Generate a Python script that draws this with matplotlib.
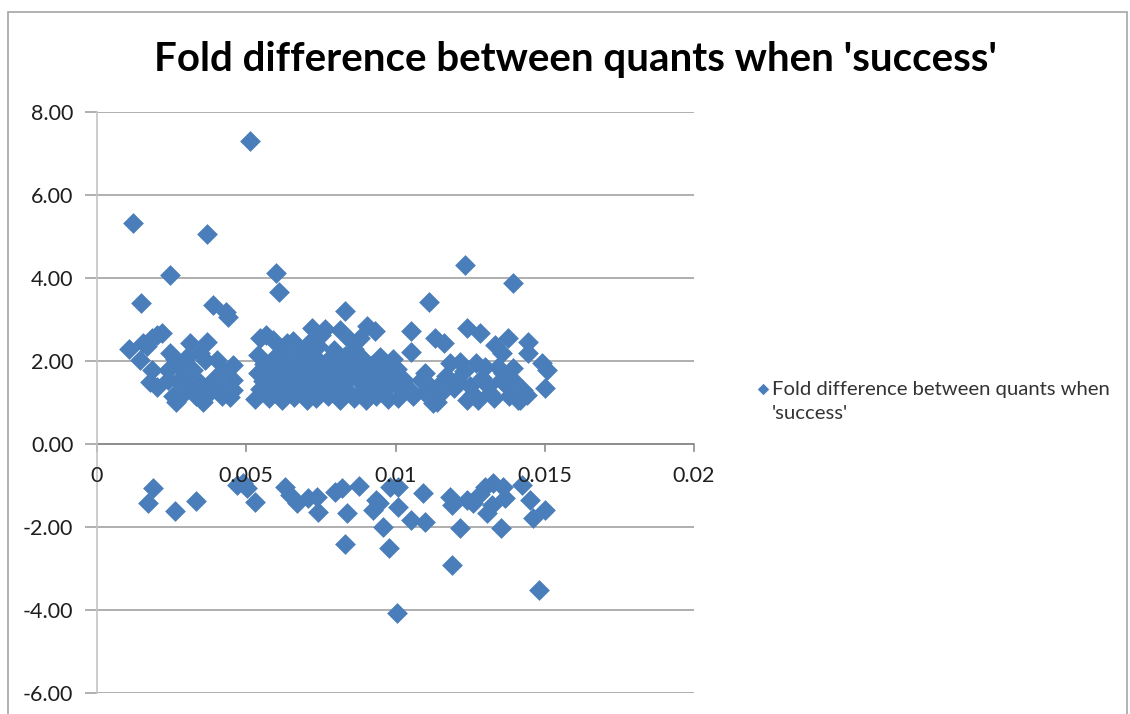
import matplotlib
matplotlib.use("Agg")
import matplotlib.pyplot as plt
from matplotlib.patches import Rectangle

# Fold difference vs. x position, points read per cluster
x_upper = [0.00512, 0.00120, 0.00368, 0.00245, 0.00599, 0.00609, 0.00147, 0.00389,
           0.00432, 0.00438, 0.00830, 0.01232, 0.01393, 0.01112]
y_upper = [7.30, 5.32, 5.07, 4.07, 4.13, 3.66, 3.40, 3.35,
           3.18, 3.05, 3.20, 4.31, 3.89, 3.42]

x_left = [0.00107, 0.00154, 0.00184, 0.00218, 0.00144, 0.00184, 0.00177, 0.00200,
          0.00245, 0.00238, 0.00271, 0.00278, 0.00265, 0.00255, 0.00311, 0.00368,
          0.00321, 0.00311, 0.00345, 0.00355, 0.00362, 0.00402, 0.00389, 0.00422,
          0.00455, 0.00455, 0.00455, 0.00445, 0.00295, 0.00330, 0.00285, 0.00380,
          0.00410, 0.00300, 0.00260, 0.00200, 0.00168, 0.00345, 0.00420, 0.00238]
y_left = [2.29, 2.43, 2.55, 2.68, 2.02, 1.78, 1.50, 1.38,
          2.19, 1.78, 1.90, 1.47, 1.02, 1.15, 2.43, 2.45,
          1.78, 1.37, 1.47, 1.02, 2.02, 2.02, 1.54, 1.78,
          1.90, 1.54, 1.30, 1.13, 1.25, 1.15, 1.62, 1.25,
          1.40, 2.10, 2.05, 2.62, 2.35, 2.20, 1.15, 1.55]

x_mid = [0.00546, 0.00566, 0.00590, 0.00636, 0.00670, 0.00540, 0.00720, 0.00764,
         0.00750, 0.00814, 0.00904, 0.00931, 0.00847, 0.00880, 0.00948, 0.00990,
         0.00530, 0.00575, 0.00620, 0.00660, 0.00705, 0.00735, 0.00775, 0.00815,
         0.00860, 0.00900, 0.00935, 0.00975,
         0.00545, 0.00590, 0.00640, 0.00685, 0.00720, 0.00760, 0.00800, 0.00845,
         0.00890, 0.00925, 0.00960,
         0.00555, 0.00605, 0.00650, 0.00695, 0.00740, 0.00785, 0.00830, 0.00870,
         0.00915, 0.00950, 0.00985,
         0.00540, 0.00585, 0.00630, 0.00670, 0.00715, 0.00755, 0.00800, 0.00840,
         0.00880, 0.00935,
         0.00560, 0.00610, 0.00655, 0.00700, 0.00745, 0.00790, 0.00825, 0.00870,
         0.00920, 0.00965,
         0.00600, 0.00640, 0.00690, 0.00730, 0.00780, 0.00830, 0.00885,
         0.00620, 0.00700, 0.00740, 0.00795, 0.00860,
         0.00568, 0.00612, 0.00678, 0.00752, 0.00818, 0.00862, 0.00905, 0.00942,
         0.00598, 0.00668, 0.00712, 0.00772, 0.00852, 0.00898, 0.00655, 0.00715]
y_mid = [2.55, 2.62, 2.50, 2.43, 2.34, 2.14, 2.80, 2.78,
         2.62, 2.75, 2.85, 2.72, 2.50, 2.55, 2.10, 2.05,
         1.08, 1.12, 1.06, 1.14, 1.05, 1.10, 1.16, 1.06,
         1.12, 1.07, 1.15, 1.09,
         1.32, 1.28, 1.35, 1.27, 1.33, 1.30, 1.36, 1.26,
         1.31, 1.34, 1.28,
         1.52, 1.48, 1.55, 1.50, 1.46, 1.53, 1.49, 1.56,
         1.51, 1.47, 1.54,
         1.72, 1.68, 1.75, 1.70, 1.66, 1.74, 1.69, 1.73,
         1.67, 1.71,
         1.92, 1.88, 1.95, 1.90, 1.87, 1.94, 1.89, 1.93,
         1.91, 1.86,
         2.12, 2.08, 2.15, 2.10, 2.06, 2.13, 2.09,
         2.32, 2.28, 2.35, 2.26, 2.30,
         1.42, 1.62, 1.82, 1.40, 1.60, 1.82, 1.42, 1.62,
         2.02, 1.22, 2.22, 2.00, 2.02, 1.78, 2.48, 2.45]

x_right = [0.01052, 0.01052, 0.01132, 0.01162, 0.01239, 0.01283, 0.01333, 0.01376,
           0.01443, 0.01443, 0.01356, 0.01490, 0.01507, 0.01500, 0.01393, 0.01427,
           0.01417, 0.01440, 0.01015, 0.01048, 0.01125, 0.01139, 0.01182, 0.01216,
           0.01239, 0.01276, 0.01316, 0.01343, 0.01353, 0.01376, 0.01410, 0.01085,
           0.01152, 0.01010, 0.01030, 0.01060, 0.01095, 0.01100, 0.01115, 0.01150,
           0.01170, 0.01195, 0.01205, 0.01230, 0.01250, 0.01260, 0.01270, 0.01290,
           0.01300, 0.01310, 0.01330, 0.01360, 0.01380, 0.01395, 0.01005, 0.01000]
y_right = [2.72, 2.22, 2.55, 2.43, 2.79, 2.67, 2.39, 2.55,
           2.46, 2.19, 2.19, 1.95, 1.78, 1.34, 1.83, 1.30,
           1.06, 1.18, 1.37, 1.30, 0.99, 1.02, 1.95, 1.98,
           1.06, 1.06, 1.23, 1.86, 1.54, 1.37, 1.06, 1.54,
           1.47, 1.10, 1.55, 1.15, 1.25, 1.70, 1.40, 1.20,
           1.65, 1.35, 1.55, 1.75, 1.40, 1.20, 1.95, 1.60,
           1.85, 1.40, 1.10, 1.70, 1.15, 1.55, 1.80, 1.45]

x_neg = [0.00188, 0.00171, 0.00261, 0.00332, 0.00469, 0.00502, 0.00529, 0.00630,
         0.00646, 0.00670, 0.00707, 0.00737, 0.00740, 0.00797, 0.00820, 0.00837,
         0.00877, 0.00830, 0.00924, 0.00945, 0.00958, 0.00978, 0.00980, 0.00935,
         0.01005, 0.01008, 0.01008, 0.01052, 0.01092, 0.01100, 0.01182, 0.01189,
         0.01216, 0.01189, 0.01239, 0.01259, 0.01283, 0.01300, 0.01326, 0.01306,
         0.01323, 0.01360, 0.01366, 0.01353, 0.01423, 0.01450, 0.01460, 0.01500,
         0.01480, 0.00490]
y_neg = [-1.06, -1.42, -1.61, -1.37, -0.99, -1.06, -1.40, -1.03,
         -1.23, -1.42, -1.31, -1.27, -1.64, -1.16, -1.07, -1.67,
         -1.01, -2.42, -1.59, -1.43, -2.00, -2.51, -1.03, -1.35,
         -4.07, -1.03, -1.51, -1.83, -1.19, -1.87, -1.27, -1.47,
         -2.03, -2.91, -1.35, -1.43, -1.20, -1.03, -0.95, -1.67,
         -1.47, -1.03, -1.30, -2.03, -0.99, -1.35, -1.78, -1.59,
         -3.52, -0.95]

x_vals = x_upper + x_left + x_mid + x_right + x_neg
y_vals = y_upper + y_left + y_mid + y_right + y_neg

title = "Fold difference between quants when 'success'"
series_label = ["Fold difference between quants when", "'success'"]
x_ticks = [0, 0.005, 0.01, 0.015, 0.02]
x_ticklabels = ["0", "0.005", "0.01", "0.015", "0.02"]
y_ticks = [-6, -4, -2, 0, 2, 4, 6, 8]

W, H = 1130, 714
BLUE = "#4a7ebb"
GRID = "#9a9a9a"
TXT = "#1e1e1e"

plt.rcParams["font.family"] = ["Lato", "DejaVu Sans"]

fig = plt.figure(figsize=(W / 100, H / 100), dpi=100)
fig.patches.append(Rectangle((8 / W, -0.05), (1127 - 8) / W, 1.05 - 12 / H,
                             transform=fig.transFigure, fill=False,
                             edgecolor="#a6a6a6", linewidth=1.2))

left, right, top, bottom = 97, 694, 112, 693
ax = fig.add_axes([left / W, 1 - bottom / H, (right - left) / W, (bottom - top) / H])

ax.scatter(x_vals, y_vals, marker="D", s=112, color=BLUE, linewidths=0,
           zorder=3, label=series_label[0])

ax.set_xlim(0, 0.02)
ax.set_ylim(-6, 8)
ax.set_yticks(y_ticks)
ax.set_yticklabels([f"{v:.2f}" for v in y_ticks])
ax.set_xticks(x_ticks)

for s in ("top", "right", "bottom"):
    ax.spines[s].set_visible(False)
ax.spines["left"].set_color("#c4c4c4")
ax.spines["left"].set_linewidth(1.2)

ax.yaxis.grid(True, color=GRID, linewidth=1.1, zorder=0)
ax.set_axisbelow(True)
ax.axhline(0, color="#8c8c8c", linewidth=1.3, zorder=1)
ax.tick_params(axis="y", length=9, width=1.1, color=GRID, pad=8,
               labelsize=15.5, labelcolor=TXT)
ax.tick_params(axis="x", length=0, pad=0)
ax.set_xticklabels([])

# the x-axis crosses at y=0: tick marks and labels along that line
for xt, lab in zip(x_ticks, x_ticklabels):
    ax.plot([xt, xt], [0, -0.17], color="#8c8c8c", linewidth=1.2, zorder=1,
            clip_on=False)
    ax.text(xt, -0.78, lab, ha="center", va="center", fontsize=15.5, color=TXT)

fig.text(575 / W, 1 - 59 / H, title, ha="center", va="center",
         fontsize=29, fontweight="bold", color="black")

LEG_FS = 14.6
anchor_x = 755
leg = fig.legend(loc="center left", bbox_to_anchor=(anchor_x / W, 1 - 389 / H),
                 frameon=False, fontsize=LEG_FS, handlelength=0.6,
                 handletextpad=0.15, markerscale=0.55, labelcolor="#333333",
                 borderaxespad=0, borderpad=0)

# shift the legend so its text starts at x=772 px
fig.canvas.draw()
bb = leg.get_texts()[0].get_window_extent()
anchor_x += 772 - bb.x0
leg.set_bbox_to_anchor((anchor_x / W, 1 - 389 / H), transform=fig.transFigure)
fig.text(772 / W, 1 - 413 / H, series_label[1], ha="left", va="center",
         fontsize=LEG_FS, color="#333333")

fig.savefig("out.png", dpi=100)
